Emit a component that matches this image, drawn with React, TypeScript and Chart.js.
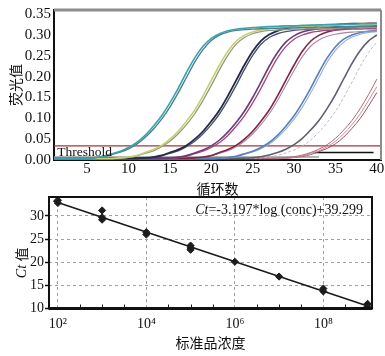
import React, { useEffect, useRef } from 'react';
import { Chart, registerables } from 'chart.js';
Chart.register(...registerables);

// ---------- Top chart: amplification curves ----------
const cycles = [1, 2, 3, 4, 5, 6, 7, 8, 9, 10, 11, 12, 13, 14, 15, 16, 17, 18, 19, 20, 21, 22, 23, 24, 25, 26, 27, 28, 29, 30, 31, 32, 33, 34, 35, 36, 37, 38, 39, 40];
const topXTicks = [5, 10, 15, 20, 25, 30, 35, 40];
const topYTicks = [0, 0.05, 0.1, 0.15, 0.2, 0.25, 0.3, 0.35];
const thresholdLevel = 0.034;
const thresholdCycles = [1, 40.5];
const baseGrayCycles = [1, 33];
const baseGrayLevel = 0.007;
const baseBlackCycles = [32.5, 39.6];
const baseBlackLevel = 0.018;

const tealA = [0.004, 0.004, 0.004, 0.004, 0.004, 0.006, 0.009, 0.015, 0.021, 0.030, 0.042, 0.059, 0.081, 0.106, 0.137, 0.172, 0.210, 0.245, 0.273, 0.292, 0.303, 0.310, 0.314, 0.316, 0.318, 0.319, 0.320, 0.321, 0.322, 0.322, 0.323, 0.324, 0.324, 0.325, 0.325, 0.326, 0.326, 0.327, 0.327, 0.328];
const tealB = [0.003, 0.003, 0.003, 0.003, 0.003, 0.0055, 0.008, 0.013, 0.019, 0.027, 0.038, 0.054, 0.074, 0.098, 0.127, 0.161, 0.198, 0.235, 0.265, 0.287, 0.300, 0.307, 0.311, 0.313, 0.314, 0.315, 0.316, 0.316, 0.317, 0.317, 0.318, 0.318, 0.319, 0.319, 0.320, 0.320, 0.320, 0.321, 0.321, 0.322];
const yellowA = [0.004, 0.004, 0.004, 0.004, 0.004, 0.004, 0.004, 0.004, 0.005, 0.007, 0.011, 0.018, 0.025, 0.035, 0.050, 0.069, 0.093, 0.120, 0.154, 0.191, 0.228, 0.261, 0.285, 0.299, 0.307, 0.312, 0.315, 0.317, 0.318, 0.319, 0.320, 0.321, 0.322, 0.322, 0.323, 0.324, 0.324, 0.325, 0.325, 0.326];
const oliveB = [0.003, 0.003, 0.003, 0.003, 0.003, 0.003, 0.003, 0.003, 0.004, 0.0065, 0.010, 0.016, 0.022, 0.032, 0.045, 0.063, 0.085, 0.111, 0.143, 0.179, 0.217, 0.251, 0.278, 0.294, 0.303, 0.308, 0.311, 0.312, 0.313, 0.314, 0.314, 0.315, 0.315, 0.316, 0.316, 0.317, 0.317, 0.318, 0.318, 0.318];
const navyA = [0.004, 0.004, 0.004, 0.004, 0.004, 0.004, 0.004, 0.004, 0.004, 0.004, 0.004, 0.005, 0.007, 0.011, 0.018, 0.025, 0.035, 0.050, 0.069, 0.093, 0.120, 0.154, 0.191, 0.228, 0.261, 0.286, 0.301, 0.310, 0.316, 0.319, 0.321, 0.322, 0.323, 0.324, 0.325, 0.326, 0.327, 0.327, 0.328, 0.328];
const slateB = [0.003, 0.003, 0.003, 0.003, 0.003, 0.003, 0.003, 0.003, 0.003, 0.003, 0.003, 0.004, 0.0065, 0.010, 0.016, 0.022, 0.032, 0.045, 0.063, 0.085, 0.111, 0.143, 0.179, 0.217, 0.251, 0.278, 0.294, 0.303, 0.308, 0.311, 0.313, 0.314, 0.315, 0.315, 0.316, 0.317, 0.317, 0.318, 0.318, 0.319];
const purpleA = [0.004, 0.004, 0.004, 0.004, 0.004, 0.004, 0.004, 0.004, 0.004, 0.004, 0.004, 0.004, 0.004, 0.004, 0.005, 0.007, 0.011, 0.017, 0.024, 0.034, 0.048, 0.067, 0.090, 0.117, 0.150, 0.187, 0.225, 0.258, 0.283, 0.298, 0.307, 0.312, 0.315, 0.317, 0.318, 0.319, 0.320, 0.320, 0.321, 0.322];
const magentaB = [0.003, 0.003, 0.003, 0.003, 0.003, 0.003, 0.003, 0.003, 0.003, 0.003, 0.003, 0.003, 0.003, 0.003, 0.004, 0.006, 0.009, 0.015, 0.021, 0.030, 0.042, 0.059, 0.081, 0.106, 0.137, 0.172, 0.210, 0.245, 0.272, 0.290, 0.300, 0.306, 0.309, 0.311, 0.312, 0.313, 0.314, 0.314, 0.315, 0.315];
const maroonA = [0.004, 0.004, 0.004, 0.004, 0.004, 0.004, 0.004, 0.004, 0.004, 0.004, 0.004, 0.004, 0.004, 0.004, 0.004, 0.004, 0.004, 0.005, 0.007, 0.011, 0.018, 0.025, 0.035, 0.050, 0.069, 0.093, 0.120, 0.154, 0.191, 0.228, 0.261, 0.285, 0.299, 0.307, 0.312, 0.315, 0.317, 0.318, 0.319, 0.320];
const mauveB = [0.003, 0.003, 0.003, 0.003, 0.003, 0.003, 0.003, 0.003, 0.003, 0.003, 0.003, 0.003, 0.003, 0.003, 0.003, 0.003, 0.003, 0.004, 0.0065, 0.010, 0.016, 0.022, 0.032, 0.045, 0.063, 0.085, 0.111, 0.143, 0.179, 0.215, 0.248, 0.273, 0.288, 0.297, 0.302, 0.305, 0.307, 0.308, 0.309, 0.310];
const blueA = [0.004, 0.004, 0.004, 0.004, 0.004, 0.004, 0.004, 0.004, 0.004, 0.004, 0.004, 0.004, 0.004, 0.004, 0.004, 0.004, 0.004, 0.004, 0.004, 0.004, 0.0045, 0.006, 0.009, 0.015, 0.021, 0.030, 0.042, 0.059, 0.081, 0.106, 0.137, 0.172, 0.210, 0.245, 0.272, 0.290, 0.300, 0.306, 0.309, 0.311];
const lightBlueB = [0.003, 0.003, 0.003, 0.003, 0.003, 0.003, 0.003, 0.003, 0.003, 0.003, 0.003, 0.003, 0.003, 0.003, 0.003, 0.003, 0.003, 0.003, 0.003, 0.003, 0.004, 0.0055, 0.008, 0.013, 0.019, 0.027, 0.038, 0.054, 0.074, 0.098, 0.127, 0.161, 0.198, 0.235, 0.263, 0.283, 0.295, 0.302, 0.306, 0.308];
const grayA = [0.004, 0.004, 0.004, 0.004, 0.004, 0.004, 0.004, 0.004, 0.004, 0.004, 0.004, 0.004, 0.004, 0.004, 0.004, 0.004, 0.004, 0.004, 0.004, 0.004, 0.004, 0.004, 0.004, 0.0045, 0.0055, 0.008, 0.012, 0.018, 0.026, 0.037, 0.052, 0.072, 0.095, 0.124, 0.157, 0.195, 0.232, 0.263, 0.286, 0.300];
const paleDashed = [0.004, 0.004, 0.004, 0.004, 0.004, 0.004, 0.004, 0.004, 0.004, 0.004, 0.004, 0.004, 0.004, 0.004, 0.004, 0.004, 0.004, 0.004, 0.004, 0.004, 0.004, 0.004, 0.004, 0.004, 0.004, 0.005, 0.007, 0.011, 0.017, 0.024, 0.034, 0.048, 0.067, 0.090, 0.117, 0.150, 0.187, 0.225, 0.258, 0.283];
const pinkA = [0.004, 0.004, 0.004, 0.004, 0.004, 0.004, 0.004, 0.004, 0.004, 0.004, 0.004, 0.004, 0.004, 0.004, 0.004, 0.004, 0.004, 0.004, 0.004, 0.004, 0.004, 0.004, 0.004, 0.004, 0.004, 0.004, 0.004, 0.0045, 0.0055, 0.008, 0.012, 0.018, 0.026, 0.037, 0.052, 0.072, 0.095, 0.124, 0.157, 0.194];
const pinkB = [0.003, 0.003, 0.003, 0.003, 0.003, 0.003, 0.003, 0.003, 0.003, 0.003, 0.003, 0.003, 0.003, 0.003, 0.003, 0.003, 0.003, 0.003, 0.003, 0.003, 0.003, 0.003, 0.003, 0.003, 0.003, 0.003, 0.003, 0.003, 0.0045, 0.0065, 0.010, 0.016, 0.022, 0.032, 0.045, 0.063, 0.085, 0.111, 0.143, 0.176];
const pinkC = [0.004, 0.004, 0.004, 0.004, 0.004, 0.004, 0.004, 0.004, 0.004, 0.004, 0.004, 0.004, 0.004, 0.004, 0.004, 0.004, 0.004, 0.004, 0.004, 0.004, 0.004, 0.004, 0.004, 0.004, 0.004, 0.004, 0.004, 0.004, 0.004, 0.006, 0.0085, 0.013, 0.020, 0.028, 0.039, 0.055, 0.076, 0.100, 0.130, 0.162];

// ---------- Bottom chart: standard curve ----------
const stdConc = [1e2, 1e2, 1e3, 1e3, 1e3, 1e4, 1e4, 1e5, 1e5, 1e5, 1e6, 1e7, 1e8, 1e8, 1e9, 1e9];
const stdCt = [33.4, 32.8, 31.2, 29.7, 29.2, 26.5, 26.0, 23.6, 23.1, 22.7, 20.1, 16.9, 14.3, 13.7, 11.0, 10.4];
const fitConc = [79, 1e9];
const fitCt = [33.22, 10.53];
const botXTicks = [1e2, 1e4, 1e6, 1e8];
const botMinorExp = [2.5, 3, 3.5, 4.5, 5, 5.5, 6.5, 7, 7.5, 8.5, 9];
const botYTicks = [10, 15, 20, 25, 30];
const equationRest = '=-3.197*log (conc)+39.299';

const SERIF = "'Liberation Serif', 'DejaVu Serif', serif";
const CJK = "'Noto Sans CJK SC', sans-serif";

function TopChart() {
  const ref = useRef<HTMLCanvasElement>(null);
  useEffect(() => {
    const curves: [number[], string, number, number[]?][] = [
      [tealA, '#3aa3ad', 1.6],
      [tealB, '#4d7f8c', 1.4],
      [yellowA, '#c6d06c', 1.6],
      [oliveB, '#8f9a82', 1.3],
      [navyA, '#262a4a', 1.8],
      [slateB, '#4d5470', 1.4],
      [purpleA, '#6a3b7c', 1.6],
      [magentaB, '#a4457f', 1.3],
      [maroonA, '#7e2446', 1.6],
      [mauveB, '#a78aa6', 1.1],
      [blueA, '#5881ba', 1.6],
      [lightBlueB, '#97b0d6', 1.1],
      [grayA, '#5e606e', 1.6],
      [paleDashed, '#b9bcc4', 1.0, [3, 2]],
      [pinkA, '#b06676', 1.0],
      [pinkB, '#c98e9a', 1.0],
      [pinkC, '#9c5060', 1.0],
    ];
    const datasets: any[] = curves.map(([vals, color, w, dash]) => ({
      data: vals.map((v, i) => ({ x: cycles[i], y: v })),
      borderColor: color,
      borderWidth: w,
      borderDash: dash || [],
      pointRadius: 0,
      cubicInterpolationMode: 'monotone',
      fill: false,
    }));
    datasets.push({
      data: thresholdCycles.map((c) => ({ x: c, y: thresholdLevel })),
      borderColor: '#a8353a', borderWidth: 1.2, pointRadius: 0,
    });
    datasets.push({
      data: baseGrayCycles.map((c) => ({ x: c, y: baseGrayLevel })),
      borderColor: '#9a9aa0', borderWidth: 1.5, pointRadius: 0,
    });
    datasets.push({
      data: baseBlackCycles.map((c) => ({ x: c, y: baseBlackLevel })),
      borderColor: '#111111', borderWidth: 1.4, pointRadius: 0,
    });

    const framePlugin = {
      id: 'topFrame',
      afterDraw(chart: any) {
        const { ctx, chartArea: a, scales } = chart;
        ctx.save();
        ctx.strokeStyle = '#8c8c8c';
        ctx.lineWidth = 3;
        ctx.beginPath();
        ctx.moveTo(a.left, a.top);
        ctx.lineTo(a.right, a.top);
        ctx.stroke();
        ctx.lineWidth = 2;
        ctx.beginPath();
        ctx.moveTo(a.right, a.top);
        ctx.lineTo(a.right, a.bottom);
        ctx.stroke();
        // threshold label
        const x = scales.x.getPixelForValue(1.4);
        const y = scales.y.getPixelForValue(thresholdLevel);
        ctx.fillStyle = '#111';
        ctx.font = `13.5px ${SERIF}`;
        ctx.textBaseline = 'alphabetic';
        ctx.textAlign = 'left';
        ctx.fillText('Threshold', x, y + 10);
        ctx.restore();
      },
    };

    const chart = new Chart(ref.current!, {
      type: 'line',
      data: { datasets },
      options: {
        animation: false,
        responsive: false,
        devicePixelRatio: 1,
        layout: { padding: { left: 0, right: 4, top: 10, bottom: 0 } },
        plugins: { legend: { display: false }, tooltip: { enabled: false } },
        scales: {
          x: {
            type: 'linear', min: 1, max: 40.5,
            afterBuildTicks: (s: any) => { s.ticks = topXTicks.map((v) => ({ value: v })); },
            afterFit: (s: any) => { s.height = 40; s.paddingLeft = 0; s.paddingRight = 0; },
            grid: { display: false, drawTicks: false },
            border: { display: true, color: '#111', width: 2 },
            ticks: { font: { family: SERIF, size: 15 }, color: '#111', padding: 0, maxRotation: 0, autoSkip: false },
            title: { display: true, text: '循环数', font: { family: CJK, size: 14 }, color: '#111', padding: { top: 0, bottom: 3 } },
          },
          y: {
            type: 'linear', min: 0, max: 0.36,
            afterBuildTicks: (s: any) => { s.ticks = topYTicks.map((v) => ({ value: v })); },
            afterFit: (s: any) => { s.width = 54; s.paddingTop = 0; s.paddingBottom = 0; },
            grid: { display: false, drawTicks: false },
            border: { display: true, color: '#111', width: 2 },
            ticks: { font: { family: SERIF, size: 15 }, color: '#111', padding: 3, callback: (v: any) => Number(v).toFixed(2) },
            title: { display: true, text: '荧光值', font: { family: CJK, size: 14 }, color: '#111', padding: { top: 7, bottom: 0 } },
          },
        },
      } as any,
      plugins: [framePlugin],
    });
    return () => chart.destroy();
  }, []);
  return <canvas ref={ref} width={385} height={200} style={{ position: 'absolute', left: 0, top: 0, width: 385, height: 200 }} />;
}

function BottomChart() {
  const ref = useRef<HTMLCanvasElement>(null);
  useEffect(() => {
    const sup: Record<number, string> = { 2: '²', 4: '⁴', 6: '⁶', 8: '⁸' };
    const plugin = {
      id: 'botDeco',
      afterDraw(chart: any) {
        const { ctx, chartArea: a, scales } = chart;
        ctx.save();
        // minor ticks on bottom axis
        ctx.strokeStyle = '#222';
        ctx.lineWidth = 1;
        botMinorExp.forEach((e) => {
          const x = Math.round(scales.x.getPixelForValue(Math.pow(10, e))) + 0.5;
          ctx.beginPath();
          ctx.moveTo(x, a.bottom);
          ctx.lineTo(x, a.bottom - 4);
          ctx.stroke();
        });
        // frame
        ctx.strokeStyle = '#111';
        ctx.lineWidth = 2;
        ctx.strokeRect(a.left, a.top, a.right - a.left, a.bottom - a.top);
        ctx.lineWidth = 3;
        ctx.beginPath();
        ctx.moveTo(a.left, a.bottom);
        ctx.lineTo(a.right, a.bottom);
        ctx.stroke();
        // equation
        ctx.fillStyle = '#111';
        ctx.textBaseline = 'alphabetic';
        ctx.textAlign = 'left';
        ctx.font = `italic 14px ${SERIF}`;
        const w1 = ctx.measureText('Ct').width;
        ctx.font = `14px ${SERIF}`;
        const w2 = ctx.measureText(equationRest).width;
        const x0 = a.right - 9 - (w1 + w2);
        const by = a.top + 16.5;
        ctx.font = `italic 14px ${SERIF}`;
        ctx.fillText('Ct', x0, by);
        ctx.font = `14px ${SERIF}`;
        ctx.fillText(equationRest, x0 + w1, by);
        // y title
        ctx.translate(22, a.top + (a.bottom - a.top) * 0.59);
        ctx.rotate(-Math.PI / 2);
        ctx.textBaseline = 'middle';
        ctx.font = `italic 14px ${SERIF}`;
        const t1 = ctx.measureText('Ct ').width;
        ctx.font = `14px ${CJK}`;
        const t2 = ctx.measureText('值').width;
        const sx = -(t1 + t2) / 2;
        ctx.font = `italic 14px ${SERIF}`;
        ctx.fillText('Ct ', sx, 0);
        ctx.font = `14px ${CJK}`;
        ctx.fillText('值', sx + t1, 0);
        ctx.restore();
      },
    };

    const chart = new Chart(ref.current!, {
      type: 'scatter',
      data: {
        datasets: [
          {
            data: stdConc.map((c, i) => ({ x: c, y: stdCt[i] })),
            pointStyle: 'rectRot',
            pointRadius: 3.6,
            backgroundColor: '#1c1c1c',
            borderColor: '#1c1c1c',
            borderWidth: 1,
          },
          {
            data: fitConc.map((c, i) => ({ x: c, y: fitCt[i] })),
            showLine: true,
            borderColor: '#1a1a1a',
            borderWidth: 1.6,
            pointRadius: 0,
          },
        ],
      },
      options: {
        animation: false,
        responsive: false,
        devicePixelRatio: 1,
        layout: { padding: { left: 0, right: 13, top: 7, bottom: 0 } },
        plugins: { legend: { display: false }, tooltip: { enabled: false } },
        scales: {
          x: {
            type: 'logarithmic', min: Math.pow(10, 1.8), max: Math.pow(10, 9.1),
            afterBuildTicks: (s: any) => { s.ticks = botXTicks.map((v) => ({ value: v })); },
            afterFit: (s: any) => { s.height = 47.5; s.paddingLeft = 0; s.paddingRight = 0; },
            grid: { display: true, drawTicks: false, color: '#a0a0a0', lineWidth: 1 },
            border: { display: false, dash: [3, 3] },
            ticks: {
              font: { family: SERIF, size: 14 }, color: '#111', padding: 7, maxRotation: 0, autoSkip: false,
              callback: (v: any) => '10' + (sup[Math.round(Math.log10(Number(v)))] || ''),
            },
            title: { display: true, text: '标准品浓度', font: { family: CJK, size: 14 }, color: '#111', padding: { top: 0, bottom: 4.6 } },
          },
          y: {
            type: 'linear', min: 10, max: 34.1,
            afterBuildTicks: (s: any) => { s.ticks = botYTicks.map((v) => ({ value: v })); },
            afterFit: (s: any) => { s.width = 49; s.paddingTop = 0; s.paddingBottom = 0; },
            grid: { display: true, drawTicks: true, tickLength: 4, color: '#a0a0a0', lineWidth: 1, tickColor: '#111', tickBorderDash: [], tickWidth: 1.5 },
            border: { display: false, dash: [3, 3] },
            ticks: { font: { family: SERIF, size: 14 }, color: '#111', padding: 1 },
          },
        },
      } as any,
      plugins: [plugin],
    });
    return () => chart.destroy();
  }, []);
  return <canvas ref={ref} width={385} height={166} style={{ position: 'absolute', left: 0, top: 190, width: 385, height: 166 }} />;
}

export default function App() {
  return (
    <div style={{ position: 'fixed', left: 0, top: 0, width: 385, height: 356, background: '#fff', overflow: 'hidden' }}>
      <TopChart />
      <BottomChart />
    </div>
  );
}
